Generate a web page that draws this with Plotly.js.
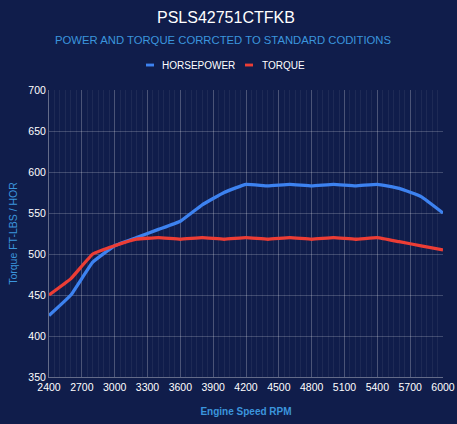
<!DOCTYPE html>
<html>
<head>
<meta charset="utf-8">
<script src="https://cdn.plot.ly/plotly-3.0.1.min.js"></script>
<style>
html,body{margin:0;padding:0;background:#101d4b;}
#chart{width:457px;height:424px;}
</style>
</head>
<body>
<div id="chart"></div>
<script>
const rpm = [2400,2600,2800,3000,3200,3400,3600,3800,4000,4200,4400,4600,4800,5000,5200,5400,5600,5800,6000];
const horsepower = [425,450,490,510,520,530,540,560,575,585,583,585,583,585,583,585,580,570,550];
const torque = [450,470,500,510,518,520,518,520,518,520,518,520,518,520,518,520,515,510,505];
const xTicks = [2400,2700,3000,3300,3600,3900,4200,4500,4800,5100,5400,5700,6000];
const yTicks = [350,400,450,500,550,600,650,700];
const seriesNames = ['HORSEPOWER','TORQUE'];
const seriesColors = ['#3d82f0','#ec3d35'];

const font = 'Liberation Sans, Arial, sans-serif';
const traces = [
  {x: rpm, y: horsepower, name: seriesNames[0], type:'scatter', mode:'lines',
   line:{color:seriesColors[0], width:3.3, shape:'spline', smoothing:0.3}},
  {x: rpm, y: torque, name: seriesNames[1], type:'scatter', mode:'lines',
   line:{color:seriesColors[1], width:3.3, shape:'spline', smoothing:0.3}}
];

const layout = {
  width:457, height:424,
  paper_bgcolor:'#101d4b', plot_bgcolor:'#101d4b',
  margin:{l:49, r:14, t:90, b:47},
  showlegend:false,
  font:{family:font, color:'#ffffff', size:10},
  xaxis:{
    range:[2400,6000], tickvals:xTicks, ticktext:xTicks.map(String),
    showgrid:true, gridcolor:'rgba(255,255,255,0.2)', gridwidth:1,
    minor:{dtick:50, tick0:2400, showgrid:true, gridcolor:'rgba(255,255,255,0.06)', gridwidth:1},
    showline:true, linecolor:'rgba(255,255,255,0.35)', linewidth:1,
    zeroline:false, ticks:'', tickfont:{family:font, size:10.5, color:'#ffffff'},
    title:{text:'Engine Speed RPM', font:{family:font, size:10, color:'#3b95dd', weight:'bold'}, standoff:16}
  },
  yaxis:{
    range:[350,700], tickvals:yTicks, ticktext:yTicks.map(String),
    showgrid:true, gridcolor:'rgba(255,255,255,0.2)', gridwidth:1,
    showline:true, linecolor:'rgba(255,255,255,0.35)', linewidth:1,
    zeroline:false, ticks:'', ticklen:4, tickfont:{family:font, size:10.5, color:'#ffffff'},
    title:{text:'Torque FT-LBS / HOR', font:{family:font, size:10.5, color:'#3b95dd'}, standoff:8}
  },
  annotations:[
    {xref:'paper', yref:'paper', x:0.449, y:1.253, xanchor:'center', yanchor:'middle', showarrow:false,
     text:'PSLS42751CTFKB', font:{family:font, size:16, color:'#ffffff'}},
    {xref:'paper', yref:'paper', x:0.442, y:1.175, xanchor:'center', yanchor:'middle', showarrow:false,
     text:'POWER AND TORQUE CORRCTED TO STANDARD CODITIONS', font:{family:font, size:11.3, color:'#3b95dd'}},
    {xref:'paper', yref:'paper', x:(160-49)/394, y:1.087, xanchor:'left', yanchor:'middle', showarrow:false,
     text:seriesNames[0], font:{family:font, size:10, color:'#ffffff'}},
    {xref:'paper', yref:'paper', x:(260-49)/394, y:1.087, xanchor:'left', yanchor:'middle', showarrow:false,
     text:seriesNames[1], font:{family:font, size:10, color:'#ffffff'}}
  ],
  shapes:[
    {type:'rect', xref:'paper', yref:'paper', x0:(146-49)/394, x1:(154-49)/394, y0:1.082, y1:1.092,
     fillcolor:seriesColors[0], line:{width:0}},
    {type:'rect', xref:'paper', yref:'paper', x0:(245-49)/394, x1:(253-49)/394, y0:1.082, y1:1.092,
     fillcolor:seriesColors[1], line:{width:0}}
  ]
};

Plotly.newPlot('chart', traces, layout, {displayModeBar:false, staticPlot:true});
</script>
</body>
</html>
